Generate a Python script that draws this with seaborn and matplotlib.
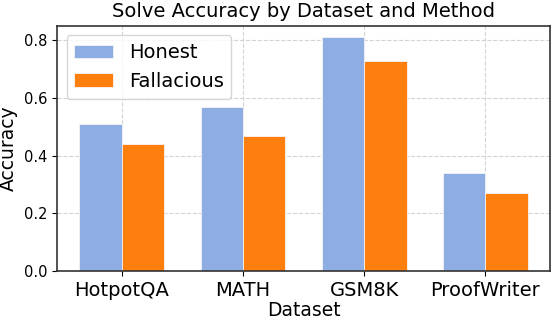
import numpy as np
import pandas as pd
import matplotlib.pyplot as plt
import seaborn as sns

datasets = ['HotpotQA', 'MATH', 'GSM8K', 'ProofWriter']
honest = [0.51, 0.57, 0.81, 0.34]
fallacious = [0.44, 0.47, 0.73, 0.27]

df = pd.DataFrame({
    'Dataset': datasets * 2,
    'Accuracy': honest + fallacious,
    'Method': ['Honest'] * 4 + ['Fallacious'] * 4,
})

sns.set_style('ticks')
plt.rcParams['font.family'] = ['DejaVu Sans']
plt.rcParams['text.color'] = 'black'
plt.rcParams['axes.labelcolor'] = 'black'
plt.rcParams['xtick.color'] = 'black'
plt.rcParams['ytick.color'] = 'black'

fig, ax = plt.subplots(figsize=(5.52, 3.22), dpi=100)
sns.barplot(data=df, x='Dataset', y='Accuracy', hue='Method',
            palette={'Honest': '#8EADE3', 'Fallacious': '#FF7F0E'},
            saturation=1, width=0.7, edgecolor='#f4f4f4', linewidth=0.6, ax=ax)

ax.set_xlim(-0.535, 3.535)
ax.set_ylim(0, 0.8505)
ax.set_yticks([0.0, 0.2, 0.4, 0.6, 0.8])
ax.grid(True, linestyle='--', color='#d3d3d3', linewidth=0.8)
ax.set_axisbelow(True)
for s in ax.spines.values():
    s.set_linewidth(1.2)
    s.set_color('#333333')

ax.set_title('Solve Accuracy by Dataset and Method', fontsize=14)
ax.set_xlabel('Dataset', fontsize=13.5, labelpad=1)
ax.set_ylabel('Accuracy', fontsize=13.5)
ax.tick_params(axis='x', labelsize=14)
ax.tick_params(axis='y', labelsize=10.5)
ax.legend(loc='upper left', fontsize=14, title=None)

fig.subplots_adjust(left=0.103, right=0.997, bottom=0.158, top=0.92)
fig.savefig('out.png', dpi=100)
